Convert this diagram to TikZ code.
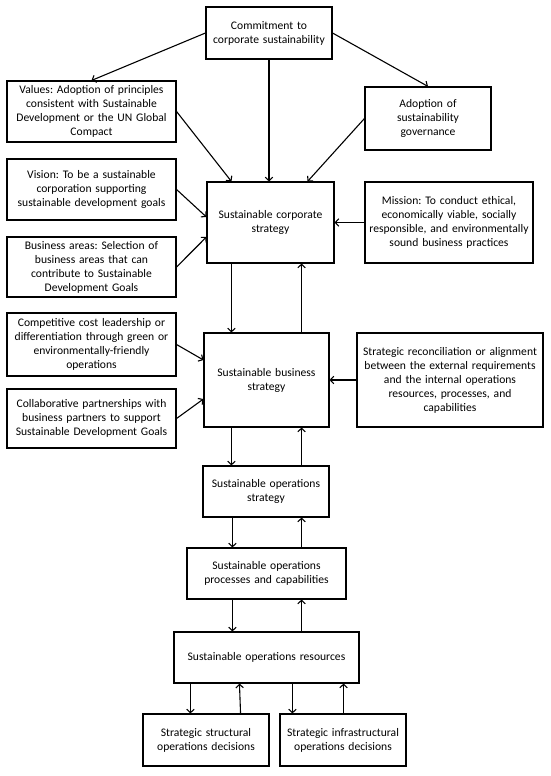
\documentclass[tikz,border=0pt]{standalone}
\usepackage{fontspec}
\setmainfont{Carlito}
\frenchspacing
\usetikzlibrary{arrows.meta}

\tikzset{
    box/.style 2 args={draw, line width=1.1pt, align=center, inner xsep=0pt, inner ysep=2pt,
        text width=#1pt, minimum height=#2pt, font=\fontsize{11.6}{14}\selectfont},
    link/.style={line width=1.1pt, -{Straight Barb[length=3.5pt,width=7.5pt]}}
}

\begin{document}
\begin{tikzpicture}[x=1pt, y=-1pt]
        \useasboundingbox (0,0) rectangle (550,776);

        % --- Draw top level: commitment and principles ---
        \node[box={126}{52}] (commit) at (269,33) {Commitment to\\corporate sustainability};
        \node[box={169}{61}] (values) at (91.5,111.5) {Values: Adoption of principles\\consistent with Sustainable\\Development or the UN Global\\Compact};
        \node[box={126}{63}] (adopt) at (428,118.5) {Adoption of\\sustainability\\governance};
        \node[box={169}{61}] (vision) at (91.5,189.5) {Vision: To be a sustainable\\corporation supporting\\sustainable development goals};
        \node[box={127}{81}] (corp) at (270.5,222.5) {Sustainable corporate\\strategy};
        \node[box={168}{81}] (mission) at (449,222.5) {Mission: To conduct ethical,\\economically viable, socially\\responsible, and environmentally\\sound business practices};
        \node[box={169}{60}] (areas) at (91.5,267) {Business areas: Selection of\\business areas that can\\contribute to Sustainable\\Development Goals};
        % ---

        % --- Draw business level ---
        \node[box={169}{63}] (compet) at (91.5,344.5) {Competitive cost leadership or\\differentiation through green or\\environmentally-friendly\\operations};
        \node[box={125}{94}] (busi) at (266.5,380) {Sustainable business\\strategy};
        \node[box={186}{94}] (recon) at (450,380) {Strategic reconciliation or alignment\\between the external requirements\\and the internal operations\\resources, processes, and\\capabilities};
        \node[box={169}{59}] (collab) at (91.5,418.5) {Collaborative partnerships with\\business partners to support\\Sustainable Development Goals};
        % ---

        % --- Draw operations level ---
        \node[box={126}{51}] (opsstrat) at (266,491.5) {Sustainable operations\\strategy};
        \node[box={159}{51}] (procs) at (266.5,573.5) {Sustainable operations\\processes and capabilities};
        \node[box={185}{51}] (res) at (266.5,657.5) {Sustainable operations resources};
        \node[box={126}{52}] (struct) at (206,740) {Strategic structural\\operations decisions};
        \node[box={126}{52}] (infra) at (343,740) {Strategic infrastructural\\operations decisions};
        % ---

        % --- Draw arrows into corporate strategy ---
        \draw[link] (commit.west) -- (values.north);
        \draw[link] (commit.east) -- (adopt.north);
        \draw[link] (commit.south) -- (commit.south |- corp.north);
        \draw[link] (values.east) -- ([xshift=25pt]corp.north west);
        \draw[link] (adopt.west) -- ([xshift=-27pt]corp.north east);
        \draw[link] (vision.east) -- ([yshift=5.5pt]corp.west);
        \draw[link] (areas.east) -- ([yshift=-14.5pt]corp.west);
        \draw[link] (mission.west) -- (corp.east);
        % ---

        % --- Draw arrows around business strategy ---
        \draw[link] ([xshift=25pt]corp.south west) -- ([xshift=28pt]busi.north west);
        \draw[link] ([xshift=-28pt]busi.north east) -- ([xshift=-33pt]corp.south east);
        \draw[link] (compet.east) -- ([yshift=20pt]busi.west);
        \draw[link] (collab.east) -- ([yshift=-19pt]busi.west);
        \draw[link] (recon.west) -- (busi.east);
        % ---

        % --- Draw arrows down the operations chain ---
        \draw[link] ([xshift=28pt]busi.south west) -- ([xshift=29pt]opsstrat.north west);
        \draw[link] ([xshift=-28pt]opsstrat.north east) -- ([xshift=-28pt]busi.south east);
        \draw[link] ([xshift=30pt]opsstrat.south west) -- ([xshift=46pt]procs.north west);
        \draw[link] ([xshift=-45pt]procs.north east) -- ([xshift=-28pt]opsstrat.south east);
        \draw[link] ([xshift=46pt]procs.south west) -- ([xshift=59pt]res.north west);
        \draw[link] ([xshift=-58pt]res.north east) -- ([xshift=-45pt]procs.south east);
        \draw[link] ([xshift=17pt]res.south west) -- ([xshift=48pt]struct.north west);
        \draw[link] ([xshift=-29pt]struct.north east) -- ([xshift=66pt]res.south west);
        \draw[link] ([xshift=119pt]res.south west) -- ([xshift=13pt]infra.north west);
        \draw[link] ([xshift=-63pt]infra.north east) -- ([xshift=-16pt]res.south east);
        % ---
    \end{tikzpicture}
\end{document}
